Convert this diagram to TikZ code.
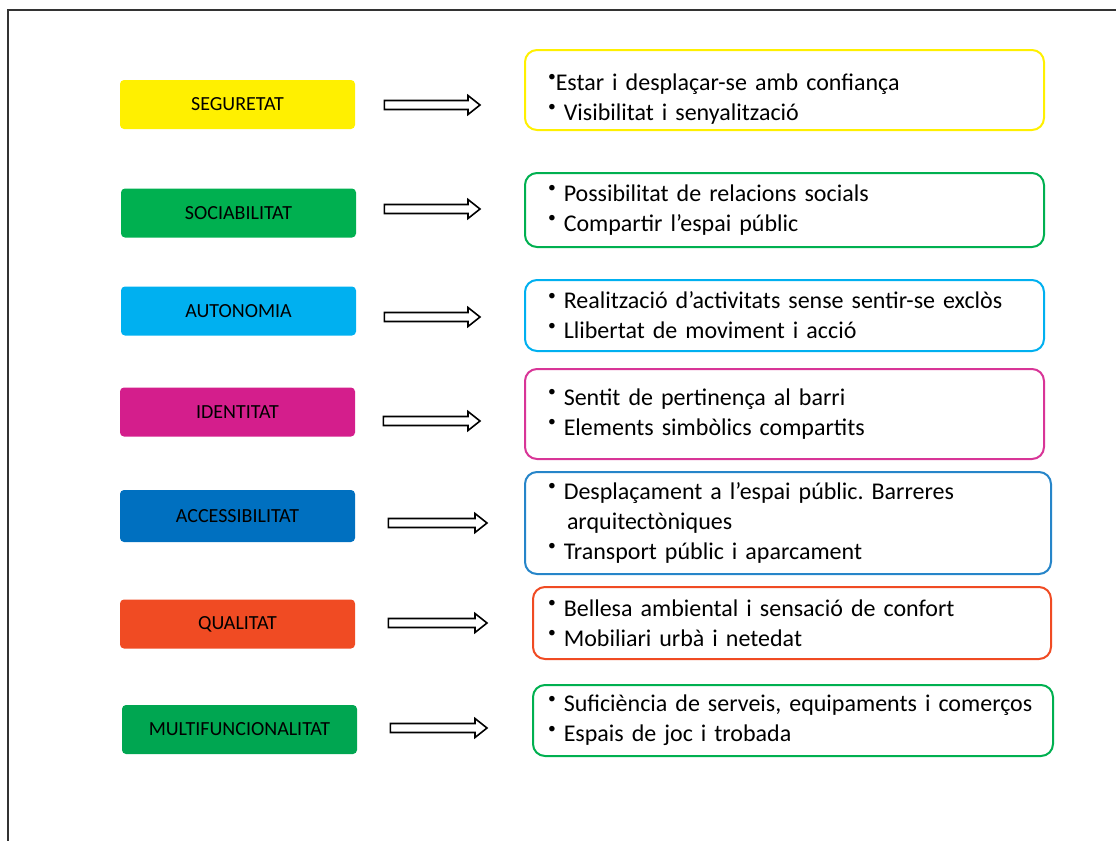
\documentclass[tikz,border=0pt]{standalone}
\usepackage{fontspec}
\setmainfont{Carlito}
\usepackage{graphicx}
\usepackage{xcolor}
\usepackage{tikz}
\usetikzlibrary{calc,positioning}
\definecolor{cseg}{RGB}{255,240,0}
\definecolor{csoc}{RGB}{0,176,80}
\definecolor{caut}{RGB}{0,176,240}
\definecolor{cide}{RGB}{212,30,140}
\definecolor{cacc}{RGB}{0,112,192}
\definecolor{cqua}{RGB}{240,75,35}
\definecolor{cmul}{RGB}{0,166,81}
\tikzset{
  lab/.style    = {rectangle, rounded corners=2pt, minimum width=117.5pt,
                   minimum height=24.5pt, inner sep=0pt,
                   font=\fontsize{10}{11}\selectfont},
  desc/.style   = {rectangle, rounded corners=6pt, line width=1pt, fill=white,
                   align=left, anchor=west, inner xsep=11.5pt, inner ysep=0pt,
                   text width=236.5pt, font=\fontsize{12}{15}\selectfont},
  fatarr/.style = {draw=black, line width=0.8pt, fill=white, line join=miter,
                   to path={let \p1=(\tikztostart), \p2=(\tikztotarget) in
                     (\x1,\y1-2.25pt) -- (\x2-6pt,\y1-2.25pt) -- (\x2-6pt,\y1-4.75pt)
                     -- (\x2,\y1) -- (\x2-6pt,\y1+4.75pt) -- (\x2-6pt,\y1+2.25pt)
                     -- (\x1,\y1+2.25pt) -- cycle}},
  rim/.style    = {line width=1pt, draw=black!80},
}
\newcommand{\bl}{\raisebox{0.75ex}{\scalebox{0.65}{\textbullet}}}
\frenchspacing

\begin{document}
\begin{tikzpicture}[x=0.5pt, y=-0.5pt]
  \useasboundingbox (0,0) rectangle (1116,841);
  \draw[rim] (1116,9.5) -- (7.5,9.5) -- (7.5,841);

  % categories
  \node[lab, fill=cseg] (s1) at (237.5,104.5) {SEGURETAT};
  \node[lab, fill=csoc] (s2) at (238.5,213)   {SOCIABILITAT};
  \node[lab, fill=caut] (s3) at (238.5,311)   {AUTONOMIA};
  \node[lab, fill=cide] (s4) at (237.5,412)   {IDENTITAT};
  \node[lab, fill=cacc, minimum height=26pt] (s5) at (237.5,516) {ACCESSIBILITAT};
  \node[lab, fill=cqua] (s6) at (237.5,624)   {QUALITAT};
  \node[lab, fill=cmul] (s7) at (239.5,729.5) {MULTIFUNCIONALITAT};

  % descriptions
  \node[desc, draw=cseg, minimum height=40pt] (d1) at (524,90)
    {\rule{0pt}{17pt}\bl Estar i desplaçar-se amb confiança\\\bl{} Visibilitat i senyalització};
  \node[desc, draw=csoc, minimum height=37pt] (d2) at (524,210)
    {\bl{} Possibilitat de relacions socials\\\bl{} Compartir l’espai públic};
  \node[desc, draw=caut, minimum height=35.5pt] (d3) at (524,315.5)
    {\bl{} Realització d’activitats sense sentir-se exclòs\\\bl{} Llibertat de moviment i acció};
  \node[desc, draw=cide!90!white, minimum height=45pt] (d4) at (524,414)
    {\bl{} Sentit de pertinença al barri\\\bl{} Elements simbòlics compartits};
  \node[desc, draw=cacc!85!white, minimum height=51pt, text width=240pt] (d5) at (524,523)
    {\bl{} Desplaçament a l’espai públic. Barreres\\\hspace*{9.5pt}arquitectòniques\\\bl{} Transport públic i aparcament};
  \node[desc, draw=cqua, minimum height=36pt, inner xsep=7.5pt, text width=244pt] (d6) at (532,623)
    {\bl{} Bellesa ambiental i sensació de confort\\\bl{} Mobiliari urbà i netedat};
  \node[desc, draw=csoc, minimum height=35.5pt, inner xsep=7.5pt, text width=245pt] (d7) at (532,720.5)
    {\bl{} Suficiència de serveis, equipaments i comerços\\\bl{} Espais de joc i trobada};

  \foreach \i/\dy/\ga/\gb in {1/0.5/29/44, 2/-4/28/44, 3/6/28/44, 4/9/28/44,
                              5/7/33/37, 6/-1/33/45, 7/-1.5/33/45}
    \draw[fatarr] ([shift={(\ga,\dy)}]s\i.east) to ([shift={(-\gb,0)}]d\i.west);
\end{tikzpicture}
\end{document}
